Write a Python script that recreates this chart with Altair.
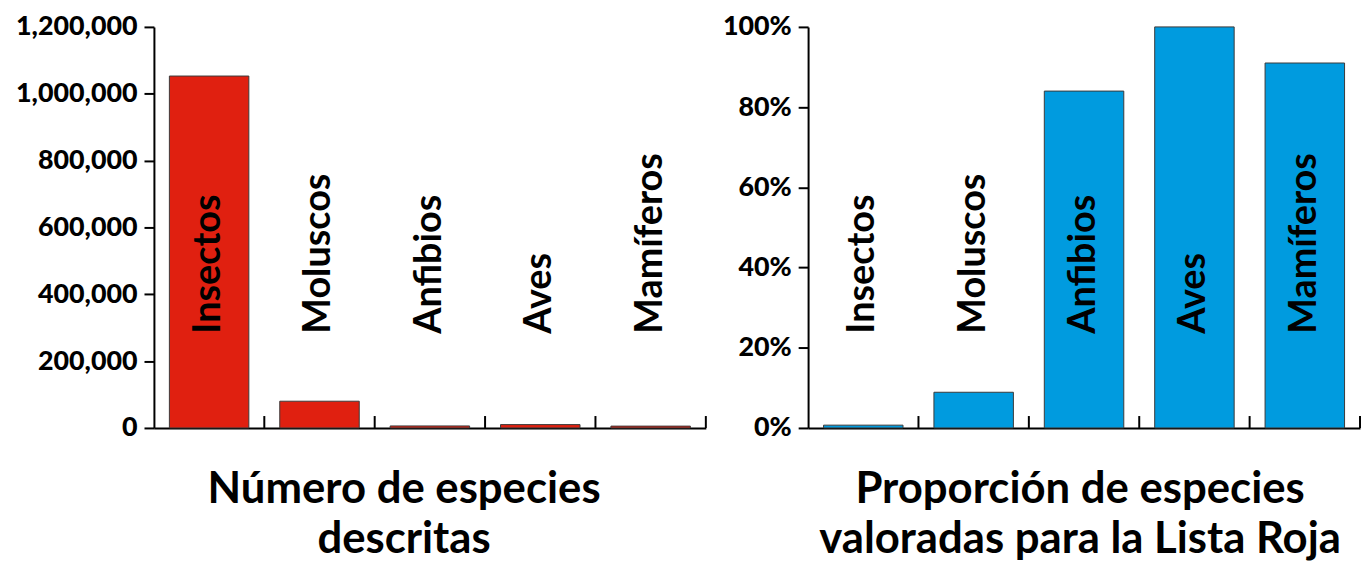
import altair as alt
import pandas as pd

categories = ["Insectos", "Moluscos", "Anfibios", "Aves", "Mamíferos"]
described = [1053000, 80000, 6000, 10000, 5500]
assessed = [0.007, 0.089, 0.84, 1.0, 0.91]

left_ticks = [0, 200000, 400000, 600000, 800000, 1000000, 1200000]
right_ticks = [0, 0.2, 0.4, 0.6, 0.8, 1.0]

left_title = ["Número de especies", "descritas"]
right_title = ["Proporción de especies", "valoradas para la Lista Roja"]

FONT = "Lato"
W, H = 556, 404

df1 = pd.DataFrame({"cat": categories, "val": described})
df2 = pd.DataFrame({"cat": categories, "val": assessed})


def panel(df, color, ydomain, yvalues, yformat, title, dx):
    xscale = alt.Scale(domain=categories, paddingInner=0, paddingOuter=0)
    base = alt.Chart(df)
    bars = base.mark_bar(
        color=color, stroke="#3a3a3a", strokeWidth=1,
        width=alt.RelativeBandSize(0.72)
    ).encode(
        x=alt.X("cat:N", scale=xscale, sort=categories,
                axis=alt.Axis(labels=False, ticks=False, title=None,
                              domain=True, domainColor="black", domainWidth=2)),
        y=alt.Y("val:Q", scale=alt.Scale(domain=ydomain, nice=False),
                axis=alt.Axis(values=yvalues, format=yformat, title=None,
                              grid=False, domainColor="black", domainWidth=2,
                              tickColor="black", tickWidth=2, tickSize=10,
                              labelFont=FONT, labelFontSize=27,
                              labelFontWeight=900, labelColor="black",
                              labelPadding=7)),
    )
    ticks = base.mark_rule(color="black", strokeWidth=2).encode(
        x=alt.X("cat:N", scale=xscale, sort=categories, bandPosition=1),
        y=alt.value(H - 12),
        y2=alt.value(H),
    )
    labels = base.mark_text(
        angle=270, align="left", baseline="middle",
        font=FONT, fontSize=38, fontWeight="bold", color="black"
    ).encode(
        x=alt.X("cat:N", scale=xscale, sort=categories),
        y=alt.value(309),
        text="cat:N",
    )
    return alt.layer(bars, ticks, labels).properties(
        width=W, height=H,
        title=alt.TitleParams(title, orient="bottom", anchor="middle",
                              frame="group", font=FONT, fontSize=44,
                              fontWeight="bold", color="black",
                              lineHeight=50, offset=28, dx=dx),
    )


left = panel(df1, "#E02010", [0, 1200000], left_ticks, ",.0f", left_title, -26)
right = panel(df2, "#009BDF", [0, 1.0], right_ticks, ".0%", right_title, -4)

chart = alt.hconcat(left, right, spacing=15).properties(
    padding={"left": 7, "top": 3, "right": 0, "bottom": 0}
).configure_view(stroke=None)

chart.save("out.html", embed_options={"renderer": "svg", "actions": False})
